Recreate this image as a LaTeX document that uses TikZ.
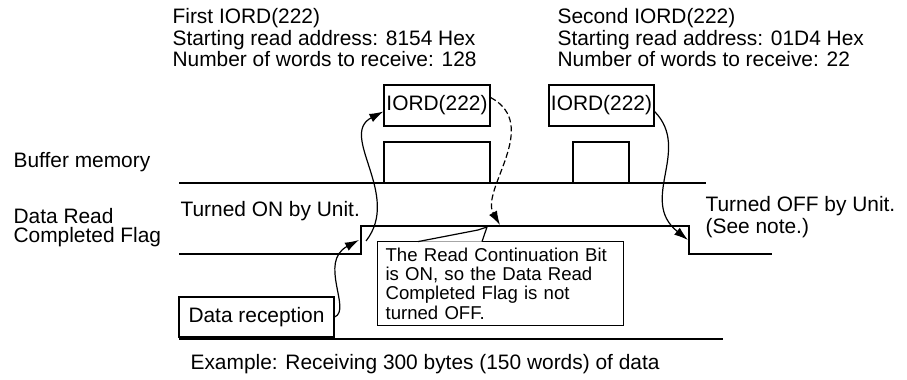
\documentclass[tikz,border=0pt]{standalone}
\usepackage{fontspec}
\setmainfont{Liberation Sans}
\usetikzlibrary{arrows.meta}
\begin{document}
\begin{tikzpicture}[x=0.5pt,y=-0.5pt,line width=0.6pt,
  font=\fontsize{10.45}{9.65}\selectfont,
  box/.style={draw,inner sep=0pt},
  lbl/.style={inner sep=0pt,anchor=base west,align=left},
  arr/.style={-{Latex[length=7pt,width=4.5pt]}}]
\useasboundingbox (0,0) rectangle (907,380);

% headings for the two instructions
\node[lbl] (first) at (172,66.5) {First IORD(222)\\Starting read address: 8154 Hex\\Number of words to receive: 128};
\node[lbl] (second) at (557,66.5) {Second IORD(222)\\Starting read address: 01D4 Hex\\Number of words to receive: 22};

% row labels
\node[lbl] (bufmem) at (13,167) {Buffer memory};
\node[lbl] (flaglbl) at (13,242.5) {Data Read\\Completed Flag};

% instruction and buffer boxes
\node[box,minimum width=53pt,minimum height=20.5pt] (iord1) at (437,105.5) {IORD(222)};
\node[box,minimum width=53pt,minimum height=20.5pt] (buf1) at (437,162.5) {};
\node[box,minimum width=52.5pt,minimum height=20.5pt] (iord2) at (601.5,105.5) {IORD(222)};
\node[box,minimum width=28pt,minimum height=20.5pt] (buf2) at (601,162.5) {};
\draw (179,183) -- (706,183);

% flag signal
\coordinate (rise) at (361,226);
\coordinate (fall) at (689,226);
\draw (179,254) -- (361,254) -- (rise) -- (fall) -- (689,254) -- (772,254);
\node[lbl] (onlbl) at (180,216) {Turned ON by Unit.};
\node[lbl] (offlbl) at (705,233) {Turned OFF by Unit.\\(See note.)};

% data reception
\node[box,minimum width=77.5pt,minimum height=20pt] (recv) at (256.5,317) {Data reception};
\draw (179,339) -- (723,339);
\node[lbl] (caption) at (190,369) {Example: Receiving 300 bytes (150 words) of data};

% note with pointer
\node[box,fill=white,anchor=north west,minimum width=123pt,minimum height=42pt,
  inner xsep=4pt,align=left,text width=115pt,font=\fontsize{9.3}{9.65}\selectfont] (note) at (377,241)
  {The Read Continuation Bit\\is ON, so the Data Read\\Completed Flag is not\\turned OFF.};
\filldraw[fill=white] (418,241.6) -- (478,230) -- (487,227) -- (482,241.6);

% connectors
\coordinate (recvend) at (359,240);
\coordinate (risefoot) at (366,241);
\coordinate (holdpt) at (500,225);
\coordinate (fallpt) at (688,240);
\draw[arr] (recv.east) .. controls (352,310) and (318,262) .. (recvend);
\draw[arr] (risefoot) .. controls (402,195) and (338,135) .. ([yshift=-3pt]iord1.west);
\draw[arr,dash pattern=on 3pt off 1.5pt] ([yshift=4pt]iord1.east) .. controls (542,125) and (480,190) .. (holdpt);
\draw[arr] ([yshift=-3pt]iord2.east) .. controls (692,150) and (638,200) .. (fallpt);
\end{tikzpicture}
\end{document}
